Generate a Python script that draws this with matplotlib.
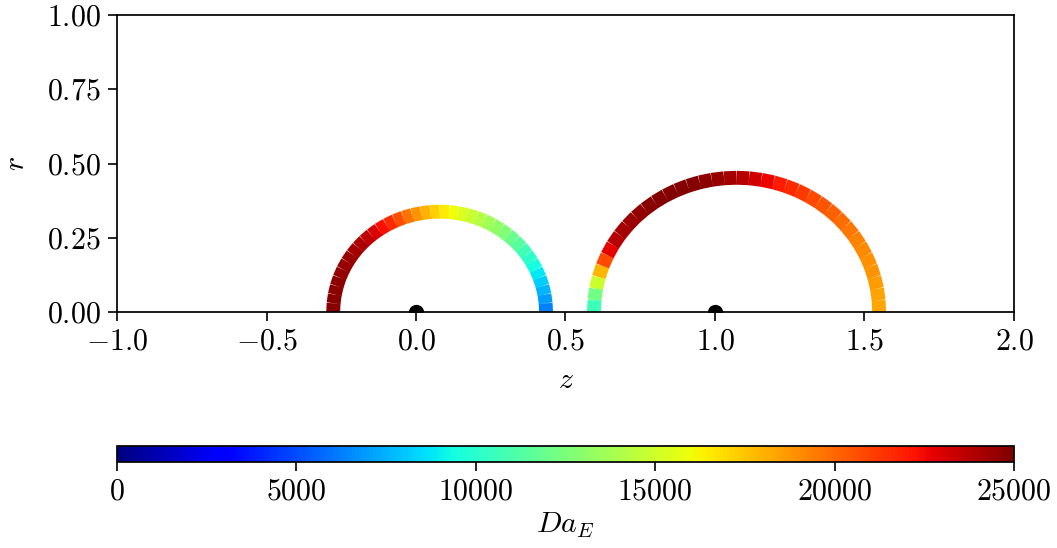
import numpy as np
import matplotlib
matplotlib.use("Agg")
import matplotlib.pyplot as plt
from matplotlib.collections import LineCollection
from matplotlib.colors import Normalize
from matplotlib.ticker import FuncFormatter

plt.rcParams['font.family'] = 'serif'
plt.rcParams['font.serif'] = ['cmr10']
plt.rcParams['mathtext.fontset'] = 'cm'
plt.rcParams['axes.unicode_minus'] = False

# ---- data ----
theta_deg = list(range(0, 181, 5))  # angle along each arc, right (0) to left (180)

arc1_center = 0.079
arc1_rz = 0.356
arc1_rr = 0.338
arc1_da = [6000, 6600, 7300, 7900, 8500, 9100, 9800, 10400, 11000, 11700,
           12300, 12900, 13400, 13900, 14500, 15100, 15700, 16300, 16900, 17600,
           18400, 19200, 20200, 21200, 22000, 22700, 23300, 23800, 24100, 24300,
           24400, 24500, 24600, 24700, 24700, 24800, 24800]

arc2_center = 1.072
arc2_rz = 0.477
arc2_rr = 0.452
arc2_da = [18200, 18400, 18500, 18700, 18800, 19000, 19200, 19400, 19700, 20000,
           20300, 20600, 21000, 21400, 21800, 22300, 22900, 23500, 24000, 24400,
           24600, 24800, 24900, 24900, 24900, 24800, 24700, 24500, 24300, 24000,
           23500, 22200, 19300, 16500, 13300, 11300, 9900]

dots_z = [0.0, 1.0]
dots_r = [0.0, 0.0]

xticks = [-1.0, -0.5, 0.0, 0.5, 1.0, 1.5, 2.0]
yticks = [0.0, 0.25, 0.5, 0.75, 1.0]
cbar_ticks = [0, 5000, 10000, 15000, 20000, 25000]
da_min, da_max = 0, 25000

# ---- figure ----
FS = 21.5
fig = plt.figure(figsize=(10.57, 5.48), dpi=100)
ax = fig.add_axes([117/1057, 1-312/548, 897/1057, 297/548])
cax = fig.add_axes([117/1057, 1-462/548, 897/1057, 16/548])

cmap = plt.get_cmap('jet')
norm = Normalize(da_min, da_max)

def draw_arc(center, rz, rr, vals):
    th = np.deg2rad(np.array(theta_deg, dtype=float))
    z = center + rz*np.cos(th)
    r = rr*np.sin(th)
    pts = np.column_stack([z, r])
    segs = np.stack([pts[:-1], pts[1:]], axis=1)
    v = np.asarray(vals, dtype=float)
    cvals = 0.5*(v[:-1] + v[1:])
    lc = LineCollection(segs, cmap=cmap, norm=norm, linewidths=10, capstyle='butt')
    lc.set_array(cvals)
    ax.add_collection(lc)
    return lc

draw_arc(arc1_center, arc1_rz, arc1_rr, arc1_da)
draw_arc(arc2_center, arc2_rz, arc2_rr, arc2_da)

ax.plot(dots_z, dots_r, 'o', color='black', ms=10, zorder=5)

ax.set_xlim(-1, 2)
ax.set_ylim(0, 1)
ax.set_xticks(xticks)
ax.set_yticks(yticks)
ax.xaxis.set_major_formatter(FuncFormatter(lambda v, p: r'$%.1f$' % v))
ax.yaxis.set_major_formatter(FuncFormatter(lambda v, p: r'$%.2f$' % v))
ax.tick_params(labelsize=FS, length=6.5, width=1.2, pad=5)
for s in ax.spines.values():
    s.set_linewidth(1.25)
ax.set_xlabel(r'$z$', fontsize=FS, labelpad=8)
ax.set_ylabel(r'$r$', fontsize=FS, labelpad=12)

sm = plt.cm.ScalarMappable(cmap=cmap, norm=norm)
cb = fig.colorbar(sm, cax=cax, orientation='horizontal', ticks=cbar_ticks)
cb.ax.xaxis.set_major_formatter(FuncFormatter(lambda v, p: r'$%d$' % v))
cb.ax.tick_params(labelsize=FS, length=6.5, width=1.2, pad=5)
cb.outline.set_linewidth(1.25)
cb.set_label(r'$Da_E$', fontsize=FS, labelpad=4)

fig.savefig('out.png', dpi=100)
